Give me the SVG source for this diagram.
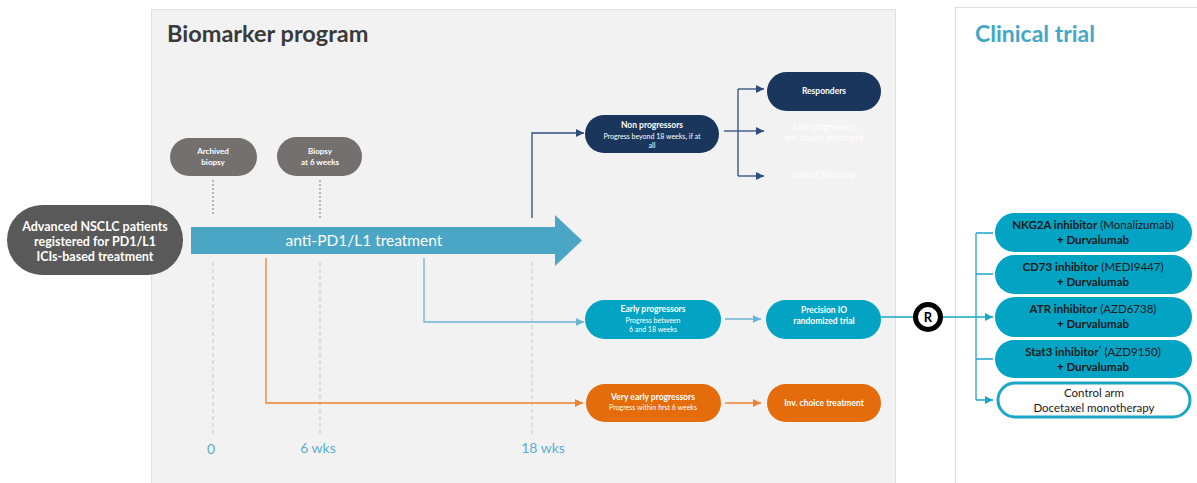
<svg xmlns="http://www.w3.org/2000/svg" width="1197" height="483" viewBox="0 0 1197 483">
<style>
text{font-family:Lato,"Liberation Sans",sans-serif;}
.w{fill:#fff;}
.b{font-weight:bold;}
.c{text-anchor:middle;}
.dk{fill:#1a1a1a;}
.navy{fill:#1b365d;}
.teal{fill:#03a3c4;}
.org{fill:#e46c0a;}
.gry{fill:#747070;}
.tick{fill:#5aaed3;font-size:14px;text-anchor:middle;}
.dash{stroke:#c8c8c8;stroke-width:1;stroke-dasharray:4,3;fill:none;}
.dot{stroke:#777;stroke-width:1;stroke-dasharray:2,2;fill:none;}
</style>
<defs>
<marker id="aN" viewBox="0 0 10 10" refX="10" refY="5" markerWidth="9" markerHeight="8" markerUnits="userSpaceOnUse" orient="auto"><path d="M0,0L10,5L0,10z" fill="#2f4b7c"/></marker>
<marker id="aB" viewBox="0 0 10 10" refX="10" refY="5" markerWidth="9" markerHeight="8" markerUnits="userSpaceOnUse" orient="auto"><path d="M0,0L10,5L0,10z" fill="#6cb4d2"/></marker>
<marker id="aT" viewBox="0 0 10 10" refX="10" refY="5" markerWidth="9" markerHeight="8" markerUnits="userSpaceOnUse" orient="auto"><path d="M0,0L10,5L0,10z" fill="#1aa6c6"/></marker>
<marker id="aO" viewBox="0 0 10 10" refX="10" refY="5" markerWidth="9" markerHeight="8" markerUnits="userSpaceOnUse" orient="auto"><path d="M0,0L10,5L0,10z" fill="#ec8132"/></marker>
</defs>
<rect width="1197" height="483" fill="#fff"/>
<g id="panel-biomarker">
<rect x="151.5" y="9.5" width="744" height="480" fill="#f2f2f2" stroke="#e0e0e0"/>
<text x="167" y="42" class="b" font-size="23.5" fill="#3a3a3a">Biomarker program</text>
</g>
<g id="panel-clinical">
<rect x="955.5" y="7.5" width="250" height="480" fill="#fff" stroke="#dcdcdc"/>
<text x="975" y="42" class="b" font-size="23" fill="#44a7c9">Clinical trial</text>
</g>
<g id="timeline">
<path class="dot" d="M213,180V216M320,180V218"/>
<path class="dash" d="M213,262V436M320,262V436M532,262V436"/>
<text x="211" y="454" class="tick">0</text>
<text x="318" y="453" class="tick">6 wks</text>
<text x="543" y="453" class="tick">18 wks</text>
</g>
<g id="connectors" fill="none">
<path d="M532,218V133H584" stroke="#2f4b7c" stroke-width="1.3" marker-end="url(#aN)"/>
<path d="M724,131H738" stroke="#2f4b7c" stroke-width="1.3"/>
<path d="M738,89V176" stroke="#2f4b7c" stroke-width="1.3"/>
<path d="M738,89H764" stroke="#2f4b7c" stroke-width="1.3" marker-end="url(#aN)"/>
<path d="M738,131H764" stroke="#2f4b7c" stroke-width="1.3" marker-end="url(#aN)"/>
<path d="M738,176H764" stroke="#2f4b7c" stroke-width="1.3" marker-end="url(#aN)"/>
<path d="M424,258V322H584" stroke="#6cb4d2" stroke-width="1.3" marker-end="url(#aB)"/>
<path d="M725,319H761" stroke="#6cb4d2" stroke-width="1.3" marker-end="url(#aB)"/>
<path d="M266,258V403H583" stroke="#ec8132" stroke-width="1.3" marker-end="url(#aO)"/>
<path d="M725,403H761" stroke="#ec8132" stroke-width="1.3" marker-end="url(#aO)"/>
<path d="M881,317H913M943,317H993" stroke="#1aa6c6" stroke-width="1.3" marker-end="url(#aT)"/>
<path d="M976,233V400" stroke="#1aa6c6" stroke-width="1.3"/>
<path d="M976,233H993M976,274H993M976,359H993M976,400H993" stroke="#1aa6c6" stroke-width="1.3" marker-end="url(#aT)"/>
</g>
<g id="node-patients">
<rect x="7" y="205" width="176" height="70" rx="35" fill="#595959"/>
<text class="w b c" font-size="12.5"><tspan x="95" y="231">Advanced NSCLC patients</tspan><tspan x="95" y="246">registered for PD1/L1</tspan><tspan x="95" y="261">ICIs-based treatment</tspan></text>
</g>
<g id="node-treatment">
<path d="M191,227H555V215L582,240.5L555,266V254H191z" fill="#4ba6c6"/>
<text x="364" y="246" class="w c" font-size="15.5">anti-PD1/L1 treatment</text>
</g>
<g id="node-archived">
<rect x="170" y="138" width="87" height="38" rx="19" class="gry"/>
<text class="w b c" font-size="8"><tspan x="213" y="154">Archived</tspan><tspan x="213" y="165">biopsy</tspan></text>
</g>
<g id="node-biopsy6">
<rect x="277" y="137" width="85" height="39" rx="19.5" class="gry"/>
<text class="w b c" font-size="8"><tspan x="320" y="154">Biopsy</tspan><tspan x="320" y="165">at 6 weeks</tspan></text>
</g>
<g id="node-nonprog">
<rect x="585" y="115" width="134" height="38" rx="19" class="navy"/>
<text class="w c"><tspan x="652" y="128" class="b" font-size="8.5">Non progressors</tspan><tspan x="652" y="139" font-size="7">Progress beyond 18 weeks, if at</tspan><tspan x="652" y="148" font-size="7">all</tspan></text>
</g>
<g id="node-responders">
<rect x="767" y="72" width="114" height="39" rx="19.5" class="navy"/>
<text x="824" y="94" class="w b c" font-size="8.5">Responders</text>
</g>
<g id="node-late">
<text class="w c" font-size="8.5"><tspan x="824" y="130">Late progressors</tspan><tspan x="824" y="141">Inv. choice treatment</tspan></text>
</g>
<g id="node-lost">
<text x="824" y="178" class="w c" font-size="8.5">Lost of follow up</text>
</g>
<g id="node-early">
<rect x="585" y="300" width="136" height="39" rx="19.5" class="teal"/>
<text class="w c"><tspan x="653" y="312" class="b" font-size="8.5">Early progressors</tspan><tspan x="653" y="323" font-size="7">Progress between</tspan><tspan x="653" y="332" font-size="7">6 and 18 weeks</tspan></text>
</g>
<g id="node-precision">
<rect x="766" y="300" width="115" height="39" rx="19.5" class="teal"/>
<text class="w b c" font-size="8.5"><tspan x="824" y="313">Precision IO</tspan><tspan x="824" y="324">randomized trial</tspan></text>
</g>
<g id="node-veryearly">
<rect x="586" y="384" width="135" height="38" rx="19" class="org"/>
<text class="w c"><tspan x="653" y="400" class="b" font-size="8.5">Very early progressors</tspan><tspan x="653" y="410" font-size="7">Progress within first 6 weeks</tspan></text>
</g>
<g id="node-invchoice">
<rect x="767" y="384" width="114" height="38" rx="19" class="org"/>
<text x="824" y="406" class="w b c" font-size="8.5">Inv. choice treatment</text>
</g>
<g id="node-R">
<circle cx="928" cy="317" r="12.5" fill="#fff" stroke="#000" stroke-width="5"/>
<text x="928" y="322" class="b c" font-size="13" fill="#000">R</text>
</g>
<g id="node-nkg2a">
<rect x="995" y="213" width="197" height="39" rx="19.5" class="teal"/>
<text class="dk c" font-size="11.5"><tspan x="1093" y="229"><tspan class="b">NKG2A inhibitor</tspan> (Monalizumab)</tspan><tspan x="1093" y="244" class="b">+ Durvalumab</tspan></text>
</g>
<g id="node-cd73">
<rect x="995" y="255" width="197" height="39" rx="19.5" class="teal"/>
<text class="dk c" font-size="11.5"><tspan x="1093" y="271"><tspan class="b">CD73 inhibitor</tspan> (MEDI9447)</tspan><tspan x="1093" y="286" class="b">+ Durvalumab</tspan></text>
</g>
<g id="node-atr">
<rect x="995" y="297" width="197" height="40" rx="20" class="teal"/>
<text class="dk c" font-size="11.5"><tspan x="1093" y="313"><tspan class="b">ATR inhibitor</tspan> (AZD6738)</tspan><tspan x="1093" y="328" class="b">+ Durvalumab</tspan></text>
</g>
<g id="node-stat3">
<rect x="995" y="340" width="197" height="38" rx="19" class="teal"/>
<text class="dk c" font-size="11.5"><tspan x="1093" y="356"><tspan class="b">Stat3 inhibitor</tspan><tspan font-size="7" dy="-4">*</tspan><tspan dy="4"> (AZD9150)</tspan></tspan><tspan x="1093" y="371" class="b">+ Durvalumab</tspan></text>
</g>
<g id="node-control">
<rect x="998" y="383" width="192" height="34" rx="17" fill="#fff" stroke="#1aa6c6" stroke-width="3"/>
<text class="dk c" font-size="11.5"><tspan x="1094" y="397">Control arm</tspan><tspan x="1094" y="412">Docetaxel monotherapy</tspan></text>
</g>
</svg>
